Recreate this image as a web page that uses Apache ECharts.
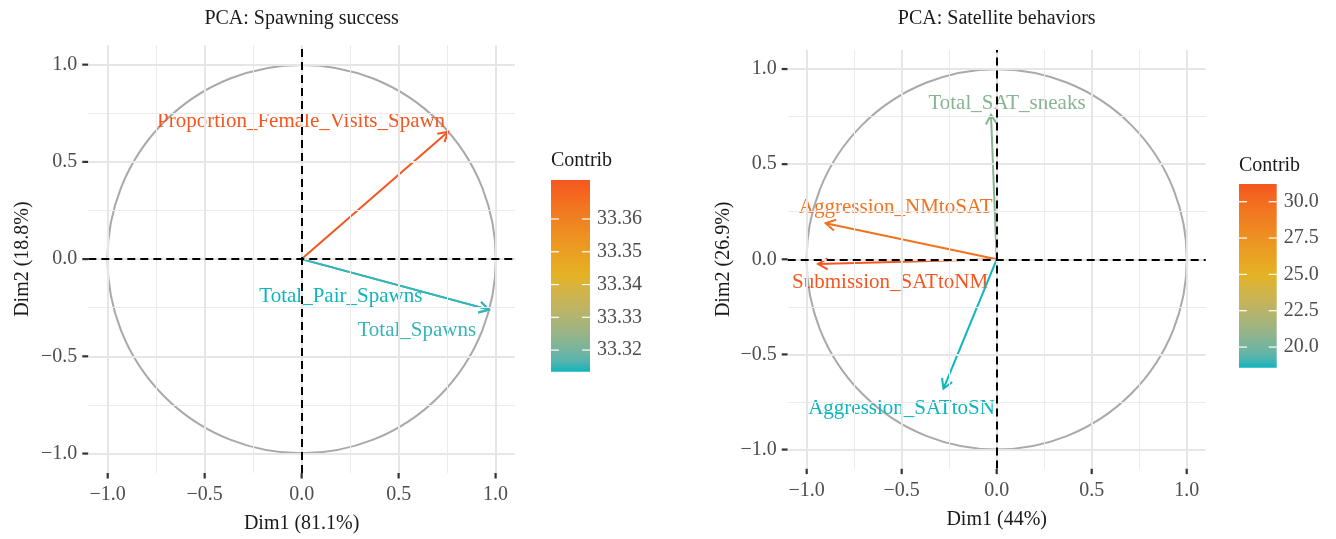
<!DOCTYPE html>
<html>
<head>
<meta charset="utf-8">
<script src="https://cdn.jsdelivr.net/npm/echarts@6/dist/echarts.min.js"></script>
<style>
  html, body { margin: 0; padding: 0; background: #ffffff; }
  #chart { width: 1336px; height: 539px; }
</style>
</head>
<body>
<div id="chart"></div>
<script>
// ---------------- DATA ----------------
const leftTitle = 'PCA: Spawning success';
const leftXName = 'Dim1 (81.1%)';
const leftYName = 'Dim2 (18.8%)';
const leftVars = ['Proportion_Female_Visits_Spawn', 'Total_Pair_Spawns', 'Total_Spawns'];
const leftDim1 = [0.755, 0.965, 0.965];
const leftDim2 = [0.655, -0.26, -0.26];
const leftContrib = [33.3719, 33.3134, 33.3147];
const leftLegendTicks = [33.32, 33.33, 33.34, 33.35, 33.36];

const rightTitle = 'PCA: Satellite behaviors';
const rightXName = 'Dim1 (44%)';
const rightYName = 'Dim2 (26.9%)';
const rightVars = ['Total_SAT_sneaks', 'Aggression_NMtoSAT', 'Submission_SATtoNM', 'Aggression_SATtoSN'];
const rightDim1 = [-0.03, -0.90, -0.94, -0.28];
const rightDim2 = [0.76, 0.19, -0.025, -0.68];
const rightContrib = [20.6, 29.6, 31.22, 18.58];
const rightLegendTicks = [20.0, 22.5, 25.0, 27.5, 30.0];

const axisTicks = [-1, -0.5, 0, 0.5, 1];
const minorTicks = [-0.75, -0.25, 0.25, 0.75];
const gradientCols = ['#10B4BC', '#E4B324', '#F5561F'];

// ---------------- STYLE ----------------
const FONT = 'Liberation Serif';
const leftLabelOffsets = [[-147, -10], [-148, -13], [-72, 21]];
const rightLabelOffsets = [[16, -11], [70, -16], [72, 18], [-42, 20]];

// ---------------- COLOR (Lab interpolation like ggplot) ----------------
function hexToRgb(h) { h = h.replace('#', ''); return [0, 2, 4].map(i => parseInt(h.substr(i, 2), 16)); }
function lin(c) { c /= 255; return c <= 0.04045 ? c / 12.92 : Math.pow((c + 0.055) / 1.055, 2.4); }
function unlin(c) { c = c <= 0.0031308 ? 12.92 * c : 1.055 * Math.pow(c, 1 / 2.4) - 0.055; return Math.max(0, Math.min(255, Math.round(c * 255))); }
function toLab(hex) {
  const [R, G, B] = hexToRgb(hex).map(lin);
  const X = (0.4124 * R + 0.3576 * G + 0.1805 * B) / 0.95047;
  const Y = (0.2126 * R + 0.7152 * G + 0.0722 * B);
  const Z = (0.0193 * R + 0.1192 * G + 0.9505 * B) / 1.08883;
  const f = t => t > 0.008856 ? Math.cbrt(t) : 7.787 * t + 16 / 116;
  const fx = f(X), fy = f(Y), fz = f(Z);
  return [116 * fy - 16, 500 * (fx - fy), 200 * (fy - fz)];
}
function fromLab(L, a, b) {
  const fy = (L + 16) / 116, fx = fy + a / 500, fz = fy - b / 200;
  const fi = t => t * t * t > 0.008856 ? t * t * t : (t - 16 / 116) / 7.787;
  const X = fi(fx) * 0.95047, Y = fi(fy), Z = fi(fz) * 1.08883;
  const R = 3.2406 * X - 1.5372 * Y - 0.4986 * Z;
  const G = -0.9689 * X + 1.8758 * Y + 0.0415 * Z;
  const B = 0.0557 * X - 0.2040 * Y + 1.0570 * Z;
  return 'rgb(' + unlin(R) + ',' + unlin(G) + ',' + unlin(B) + ')';
}
const labs = gradientCols.map(toLab);
function gradColor(t) {
  t = Math.max(0, Math.min(1, t));
  const seg = t < 0.5 ? 0 : 1;
  const u = t < 0.5 ? t / 0.5 : (t - 0.5) / 0.5;
  const a = labs[seg], b = labs[seg + 1];
  return fromLab(a[0] + (b[0] - a[0]) * u, a[1] + (b[1] - a[1]) * u, a[2] + (b[2] - a[2]) * u);
}
function gradientStops() {
  const stops = [];
  for (let k = 0; k <= 20; k++) stops.push({ offset: k / 20, color: gradColor(k / 20) });
  return stops;
}

// ---------------- HELPERS ----------------
function fmtTick(v) { return (v < 0 ? '\u2212' : '') + Math.abs(v).toFixed(1); }

function gridLineData() {
  const d = [];
  minorTicks.forEach(v => {
    d.push({ xAxis: v, lineStyle: { color: '#ebebeb', width: 1, type: 'solid' } });
    d.push({ yAxis: v, lineStyle: { color: '#ebebeb', width: 1, type: 'solid' } });
  });
  axisTicks.forEach(v => {
    d.push({ xAxis: v, lineStyle: { color: '#e6e6e6', width: 2, type: 'solid' } });
    d.push({ yAxis: v, lineStyle: { color: '#e6e6e6', width: 2, type: 'solid' } });
  });
  return d;
}

function valueXAxis(gridIndex, name) {
  return {
    type: 'value', gridIndex, min: -1.1, max: 1.1,
    axisLine: { show: false },
    splitLine: { show: false },
    axisTick: { show: false },
    axisLabel: { show: true, customValues: axisTicks, formatter: fmtTick, color: '#4d4d4d', fontSize: 20, fontFamily: FONT, margin: 12 },
    name, nameLocation: 'middle', nameGap: 41,
    nameTextStyle: { color: '#1a1a1a', fontSize: 20, fontFamily: FONT }
  };
}
function valueYAxis(gridIndex, name, gap) {
  return {
    type: 'value', gridIndex, min: -1.1, max: 1.1,
    axisLine: { show: false },
    splitLine: { show: false },
    axisTick: { show: false },
    axisLabel: { show: true, customValues: axisTicks, formatter: fmtTick, color: '#4d4d4d', fontSize: 20, fontFamily: FONT, margin: 11 },
    name, nameLocation: 'middle', nameGap: gap, nameRotate: 90,
    nameTextStyle: { color: '#1a1a1a', fontSize: 20, fontFamily: FONT }
  };
}

function panelSeries(axisIdx, dim1, dim2, contrib, names, offsets) {
  const cMin = Math.min(...contrib), cMax = Math.max(...contrib);
  const colorFor = c => gradColor((c - cMin) / (cMax - cMin));
  return [
    { // grid lines
      type: 'line', xAxisIndex: axisIdx, yAxisIndex: axisIdx, data: [[0, 0]],
      symbol: 'none', lineStyle: { opacity: 0 }, silent: true, z: 1,
      markLine: { silent: true, symbol: ['none', 'none'], label: { show: false }, animation: false, data: gridLineData() }
    },
    { // axis tick marks (outside the panel)
      type: 'custom', xAxisIndex: axisIdx, yAxisIndex: axisIdx, silent: true, z: 2, clip: false,
      data: axisTicks.map(v => [v, v]),
      renderItem: function (params, api) {
        const cs = params.coordSys;
        const p = api.coord([api.value(0), api.value(1)]);
        const st = { stroke: '#333333', lineWidth: 2.2 };
        const bottom = cs.y + cs.height;
        return { type: 'group', children: [
          { type: 'line', shape: { x1: p[0], y1: bottom, x2: p[0], y2: bottom + 5.5 }, style: st },
          { type: 'line', shape: { x1: cs.x - 6, y1: p[1], x2: cs.x, y2: p[1] }, style: st }
        ] };
      }
    },
    { // correlation circle
      type: 'custom', xAxisIndex: axisIdx, yAxisIndex: axisIdx, data: [[0, 0]], silent: true, z: 2, clip: false,
      renderItem: function (params, api) {
        const c = api.coord([api.value(0), api.value(1)]);
        const s = api.size([1, 1]);
        return { type: 'circle', shape: { cx: c[0], cy: c[1], r: (s[0] + s[1]) / 2 },
                 style: { fill: 'none', stroke: '#a9a9a9', lineWidth: 2 } };
      }
    },
    { // dashed zero lines
      type: 'line', xAxisIndex: axisIdx, yAxisIndex: axisIdx, data: [[0, 0]],
      symbol: 'none', lineStyle: { opacity: 0 }, silent: true, z: 3,
      markLine: { silent: true, symbol: ['none', 'none'], label: { show: false }, animation: false,
        lineStyle: { color: '#000000', width: 2, type: [8, 5] },
        data: [{ xAxis: 0 }, { yAxis: 0 }] }
    },
    { // arrows + labels
      type: 'custom', xAxisIndex: axisIdx, yAxisIndex: axisIdx, silent: true, z: 4, clip: false,
      data: dim1.map((x, i) => [x, dim2[i], contrib[i]]),
      encode: { x: 0, y: 1 },
      renderItem: function (params, api) {
        const i = params.dataIndex;
        const p0 = api.coord([0, 0]);
        const p1 = api.coord([api.value(0), api.value(1)]);
        const col = colorFor(api.value(2));
        const ang = Math.atan2(p1[1] - p0[1], p1[0] - p0[0]);
        const L = 11, A = Math.PI / 6;
        const h1 = [p1[0] - L * Math.cos(ang - A), p1[1] - L * Math.sin(ang - A)];
        const h2 = [p1[0] - L * Math.cos(ang + A), p1[1] - L * Math.sin(ang + A)];
        const off = offsets[i];
        return {
          type: 'group', children: [
            { type: 'line', shape: { x1: p0[0], y1: p0[1], x2: p1[0], y2: p1[1] }, style: { stroke: col, lineWidth: 2 } },
            { type: 'polyline', shape: { points: [h1, p1, h2] }, style: { stroke: col, fill: 'none', lineWidth: 2 } },
            { type: 'text', x: p1[0] + off[0], y: p1[1] + off[1],
              style: { text: names[i], fill: col, fontSize: 21, fontFamily: FONT, align: 'center', verticalAlign: 'middle' } }
          ]
        };
      }
    }
  ];
}

function legendAxes(gridIndex, contrib, ticks, digits) {
  const cMin = Math.min(...contrib), cMax = Math.max(...contrib);
  return [
    { type: 'value', gridIndex, position: 'right', min: cMin, max: cMax,
      axisLine: { show: false }, splitLine: { show: false }, axisTick: { show: false },
      axisLabel: { show: true, customValues: ticks, formatter: v => v.toFixed(digits), color: '#4d4d4d', fontSize: 20, fontFamily: FONT, margin: 7 } }
  ];
}
function legendSeries(axisX, axisY, contrib, ticks) {
  const cMin = Math.min(...contrib), cMax = Math.max(...contrib);
  return [
    { type: 'bar', xAxisIndex: axisX, yAxisIndex: axisY, stack: 'cb' + axisX, barWidth: '100%', silent: true,
      data: [cMin], itemStyle: { color: 'rgba(0,0,0,0)' }, z: 1 },
    { type: 'bar', xAxisIndex: axisX, yAxisIndex: axisY, stack: 'cb' + axisX, barWidth: '100%', silent: true,
      data: [cMax - cMin], itemStyle: { color: new echarts.graphic.LinearGradient(0, 1, 0, 0, gradientStops()) }, z: 1 },
    { // white tick marks on the colour bar
      type: 'custom', xAxisIndex: axisX, yAxisIndex: axisY, silent: true, z: 3, clip: false,
      data: ticks.map(v => [0, v]), encode: { x: 0, y: 1 },
      renderItem: function (params, api) {
        const cs = params.coordSys;
        const y = api.coord([0, api.value(1)])[1];
        const st = { stroke: '#ffffff', lineWidth: 1.2 };
        return { type: 'group', children: [
          { type: 'line', shape: { x1: cs.x, y1: y, x2: cs.x + 8, y2: y }, style: st },
          { type: 'line', shape: { x1: cs.x + cs.width - 8, y1: y, x2: cs.x + cs.width, y2: y }, style: st }
        ] };
      }
    }
  ];
}

// ---------------- CHART ----------------
const chart = echarts.init(document.getElementById('chart'), null, { renderer: 'canvas' });

const option = {
  backgroundColor: '#ffffff',
  animation: false,
  textStyle: { fontFamily: FONT },
  grid: [
    { left: 88.3, top: 45.2, width: 426.7, height: 428 },
    { left: 787.7, top: 50, width: 418, height: 418.6 },
    { left: 551, top: 180, width: 39, height: 191.7 },
    { left: 1239, top: 184, width: 37.7, height: 183.7 }
  ],
  xAxis: [
    valueXAxis(0, leftXName),
    valueXAxis(1, rightXName),
    { type: 'category', gridIndex: 2, data: ['c'], show: false },
    { type: 'category', gridIndex: 3, data: ['c'], show: false }
  ],
  yAxis: [
    valueYAxis(0, leftYName, 56),
    valueYAxis(1, rightYName, 54),
    ...legendAxes(2, leftContrib, leftLegendTicks, 2),
    ...legendAxes(3, rightContrib, rightLegendTicks, 1)
  ],
  graphic: [
    { type: 'text', x: 301.6, y: 19, style: { text: leftTitle, fill: '#1a1a1a', fontSize: 20, fontFamily: FONT, align: 'center', verticalAlign: 'middle' } },
    { type: 'text', x: 996.7, y: 19, style: { text: rightTitle, fill: '#1a1a1a', fontSize: 20, fontFamily: FONT, align: 'center', verticalAlign: 'middle' } },
    { type: 'text', x: 551, y: 161, style: { text: 'Contrib', fill: '#1a1a1a', fontSize: 20, fontFamily: FONT, align: 'left', verticalAlign: 'middle' } },
    { type: 'text', x: 1239, y: 166, style: { text: 'Contrib', fill: '#1a1a1a', fontSize: 20, fontFamily: FONT, align: 'left', verticalAlign: 'middle' } }
  ],
  series: [
    ...panelSeries(0, leftDim1, leftDim2, leftContrib, leftVars, leftLabelOffsets),
    ...panelSeries(1, rightDim1, rightDim2, rightContrib, rightVars, rightLabelOffsets),
    ...legendSeries(2, 2, leftContrib, leftLegendTicks),
    ...legendSeries(3, 3, rightContrib, rightLegendTicks)
  ]
};
chart.setOption(option);
</script>
</body>
</html>
